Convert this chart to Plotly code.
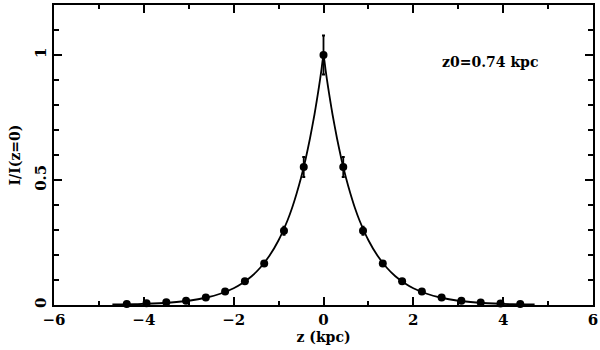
"""Perfil vertical normalizado I/I(z=0) com ajuste exponencial."""

import plotly.graph_objects as go

# pontos medidos
z_pts = [-4.38, -3.94, -3.50, -3.06, -2.62, -2.19, -1.75, -1.32, -0.88, -0.44, 0.0,
         0.44, 0.88, 1.32, 1.75, 2.19, 2.63, 3.07, 3.50, 3.94, 4.38]
i_pts = [0.004, 0.007, 0.011, 0.017, 0.030, 0.054, 0.095, 0.166, 0.297, 0.552, 1.0,
         0.552, 0.297, 0.166, 0.095, 0.054, 0.030, 0.017, 0.010, 0.006, 0.004]
i_err = [0.002, 0.002, 0.003, 0.003, 0.004, 0.005, 0.006, 0.008, 0.016, 0.040, 0.078,
         0.040, 0.016, 0.008, 0.006, 0.005, 0.004, 0.003, 0.003, 0.002, 0.002]

# curva ajustada
z_fit = [-4.7, -4.2, -3.8, -3.4, -3.0, -2.6, -2.3, -2.0, -1.8, -1.6, -1.4, -1.2, -1.0,
         -0.8, -0.7, -0.6, -0.5, -0.4, -0.3, -0.2, -0.15, -0.1, -0.05, 0.0,
         0.05, 0.1, 0.15, 0.2, 0.3, 0.4, 0.5, 0.6, 0.7, 0.8,
         1.0, 1.2, 1.4, 1.6, 1.8, 2.0, 2.3, 2.6, 3.0, 3.4, 3.8, 4.2, 4.7]
i_fit = [0.002, 0.003, 0.006, 0.010, 0.017, 0.030, 0.045, 0.067, 0.088, 0.115, 0.151, 0.198, 0.259,
         0.339, 0.388, 0.445, 0.509, 0.582, 0.667, 0.763, 0.817, 0.874, 0.935, 1.0,
         0.935, 0.874, 0.817, 0.763, 0.667, 0.582, 0.509, 0.445, 0.388, 0.339,
         0.259, 0.198, 0.151, 0.115, 0.088, 0.067, 0.045, 0.030, 0.017, 0.010, 0.006, 0.003, 0.002]

x_range = [-6, 6]
y_range = [0, 1.2]
x_ticks = [-6, -4, -2, 0, 2, 4, 6]
x_ticktext = ["\u22126", "\u22124", "\u22122", "0", "2", "4", "6"]
y_ticks = [0, 0.5, 1]
y_ticktext = ["0", "0.5", "1"]

FONT = "DejaVu Serif"

fig = go.Figure()
fig.add_trace(go.Scatter(
    x=z_fit, y=i_fit,
    mode="lines",
    line=dict(color="black", width=1.8, shape="spline", smoothing=0.6),
    hoverinfo="skip",
    showlegend=False,
))
fig.add_trace(go.Scatter(
    x=z_pts, y=i_pts,
    mode="markers",
    marker=dict(color="black", size=8),
    error_y=dict(type="data", array=i_err, color="black", thickness=1.8, width=1.5),
    cliponaxis=False,
    showlegend=False,
))
# traço invisível só para ativar os eixos espelhados (topo / direita)
fig.add_trace(go.Scatter(
    x=x_range, y=y_range, xaxis="x2", yaxis="y2",
    mode="markers", marker=dict(opacity=0), hoverinfo="skip", showlegend=False,
))

axis_common = dict(
    showline=True, linecolor="black", linewidth=2, mirror=False,
    ticks="inside", tickcolor="black", tickwidth=1.5, ticklen=8,
    showgrid=False, zeroline=False, automargin=False,
    tickfont=dict(family=FONT, size=15, color="black"),
)
x_minor = dict(dtick=1, ticks="inside", ticklen=4, tickcolor="black", tickwidth=1.5)
y_minor = dict(dtick=0.1, ticks="inside", ticklen=5, tickcolor="black", tickwidth=1.5)

fig.update_layout(
    width=600, height=350, autosize=False,
    paper_bgcolor="white", plot_bgcolor="white",
    margin=dict(l=54, r=7, t=5, b=45),
    font=dict(family=FONT, color="black"),
    xaxis=dict(
        range=x_range, tickvals=x_ticks, ticktext=[f"<b>{t}</b>" for t in x_ticktext],
        minor=x_minor,
        title=dict(text="<b>z (kpc)</b>", font=dict(family=FONT, size=14), standoff=2),
        **axis_common,
    ),
    yaxis=dict(
        range=y_range, tickvals=y_ticks, ticktext=[f"<b>{t}</b>" for t in y_ticktext],
        tickangle=-90,
        minor=y_minor,
        title=dict(text="<b>I/I(z=0)</b>", font=dict(family=FONT, size=14), standoff=8),
        **axis_common,
    ),
    xaxis2=dict(
        range=x_range, tickvals=x_ticks, showticklabels=False, overlaying="x", side="top",
        minor=x_minor, **axis_common,
    ),
    yaxis2=dict(
        range=y_range, tickvals=y_ticks, showticklabels=False, overlaying="y", side="right",
        minor=y_minor, **axis_common,
    ),
)

fig.add_annotation(
    x=3.71, y=0.972, text="<b>z0=0.74 kpc</b>", showarrow=False,
    font=dict(family=FONT, size=14, color="black"),
)

fig.write_html(
    "out.html",
    config={"displayModeBar": False},
    post_script="document.body.style.margin='0';",
)
